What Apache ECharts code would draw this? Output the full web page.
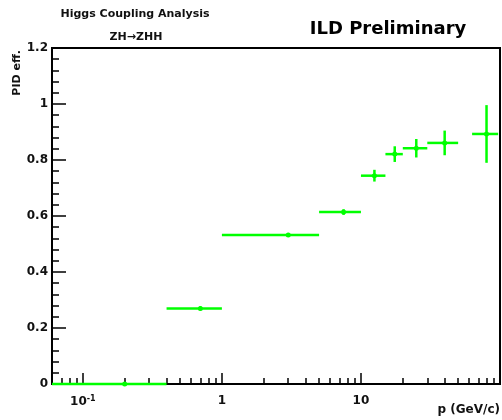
<!DOCTYPE html>
<html>
<head>
<meta charset="utf-8">
<script src="https://cdn.jsdelivr.net/npm/echarts@6/dist/echarts.min.js"></script>
<style>
  html, body { margin: 0; padding: 0; background: #fff; }
  #chart { width: 502px; height: 420px; }
</style>
</head>
<body>
<div id="chart"></div>
<script>
// bin centres and half widths in p (GeV/c)
const pMid = [0.2, 0.7, 3, 7.5, 12.5, 17.5, 25, 40, 80];
const pHalf = [0.2, 0.3, 2, 2.5, 2.5, 2.5, 5, 10, 17];
// PID efficiency and its error
const eff = [0, 0.27, 0.532, 0.614, 0.744, 0.821, 0.842, 0.861, 0.893];
const effErr = [0, 0.007, 0.006, 0.01, 0.021, 0.028, 0.033, 0.044, 0.103];

const xMajor = [0.1, 1, 10, 100];
const xLabels = [0.1, 1, 10];
const xMin = 0.06, xMax = 100;

var xMinor = [];
[0.01, 0.1, 1, 10].forEach(function (d) {
    for (var k = 2; k <= 9; k++) {
        var v = +(k * d).toFixed(4);
        if (v > xMin && v < xMax) xMinor.push(v);
    }
});

const FONT = 'DejaVu Sans';
const GREEN = '#00ff00';

var chart = echarts.init(document.getElementById('chart'));

var points = pMid.map(function (p, i) {
    return [p, eff[i], pHalf[i], effErr[i]];
});

var option = {
    animation: false,
    backgroundColor: '#fff',
    grid: {
        left: 52, right: 2, top: 48, bottom: 36,
        show: true, borderColor: '#000', borderWidth: 2
    },
    xAxis: [
        {
            type: 'log', logBase: 10, min: xMin, max: xMax,
            axisLine: { show: true, lineStyle: { color: '#000', width: 2 } },
            axisTick: { show: true, inside: true, length: 11, customValues: xMajor,
                lineStyle: { color: '#000', width: 1.5 } },
            axisLabel: {
                customValues: xLabels, margin: 11,
                fontFamily: FONT, fontWeight: 'bold', fontSize: 12, color: '#111',
                formatter: function (v) {
                    if (v < 0.5) return '{b|10}{s|-1}';
                    return String(Math.round(v));
                },
                rich: {
                    b: { fontFamily: FONT, fontWeight: 'bold', fontSize: 12, color: '#111' },
                    s: { fontFamily: FONT, fontWeight: 'bold', fontSize: 8, color: '#111',
                        verticalAlign: 'top', padding: [0, 0, 6, 0] }
                }
            },
            splitLine: { show: false }
        },
        {
            type: 'log', logBase: 10, min: xMin, max: xMax, position: 'bottom',
            axisLine: { show: false },
            axisTick: { show: true, inside: true, length: 6, customValues: xMinor,
                lineStyle: { color: '#000', width: 1.5 } },
            axisLabel: { show: false },
            splitLine: { show: false }
        }
    ],
    yAxis: {
        type: 'value', min: 0, max: 1.2, interval: 0.2,
        axisLine: { show: true, lineStyle: { color: '#000', width: 2 } },
        axisTick: { show: true, inside: true, length: 14, lineStyle: { color: '#000', width: 1.5 } },
        minorTick: { show: true, splitNumber: 5, length: 7, lineStyle: { color: '#000', width: 1.5 } },
        axisLabel: { margin: 4, fontFamily: FONT, fontWeight: 'bold', fontSize: 12, color: '#111' },
        splitLine: { show: false }
    },
    graphic: [
        { type: 'text', x: 135, y: 14, style: { text: 'Higgs Coupling Analysis', fill: '#111',
            font: 'bold 11px "DejaVu Sans"', align: 'center', verticalAlign: 'middle' } },
        { type: 'text', x: 136, y: 37, style: { text: 'ZH\u2192ZHH', fill: '#111',
            font: 'bold 11px "DejaVu Sans"', align: 'center', verticalAlign: 'middle' } },
        { type: 'text', x: 388, y: 29, style: { text: 'ILD Preliminary', fill: '#000',
            font: 'bold 18px "DejaVu Sans"', align: 'center', verticalAlign: 'middle' } },
        { type: 'text', x: 500, y: 410, style: { text: 'p (GeV/c)', fill: '#111',
            font: 'bold 12px "DejaVu Sans"', align: 'right', verticalAlign: 'middle' } },
        { type: 'text', x: 17, y: 50, rotation: Math.PI / 2, style: { text: 'PID eff.', fill: '#111',
            font: 'bold 11px "DejaVu Sans"', align: 'right', verticalAlign: 'middle' } }
    ],
    series: [
        {
            type: 'custom',
            xAxisIndex: 0,
            data: points,
            z: 5,
            renderItem: function (params, api) {
                var p = api.value(0), y = api.value(1), dx = api.value(2), dy = api.value(3);
                var lo = api.coord([Math.max(p - dx, xMin), y]);
                var hi = api.coord([Math.min(p + dx, xMax), y]);
                var c = api.coord([p, y]);
                var children = [
                    { type: 'line', shape: { x1: lo[0], y1: lo[1], x2: hi[0], y2: hi[1] },
                        style: { stroke: GREEN, lineWidth: 2.5 } }
                ];
                if (dy > 0) {
                    var top = api.coord([p, y + dy]);
                    var bot = api.coord([p, y - dy]);
                    children.push({ type: 'line', shape: { x1: top[0], y1: top[1], x2: bot[0], y2: bot[1] },
                        style: { stroke: GREEN, lineWidth: 2.5 } });
                }
                children.push({ type: 'circle', shape: { cx: c[0], cy: c[1], r: 2.5 },
                    style: { fill: GREEN } });
                return { type: 'group', children: children };
            }
        }
    ]
};

chart.setOption(option);
</script>
</body>
</html>
